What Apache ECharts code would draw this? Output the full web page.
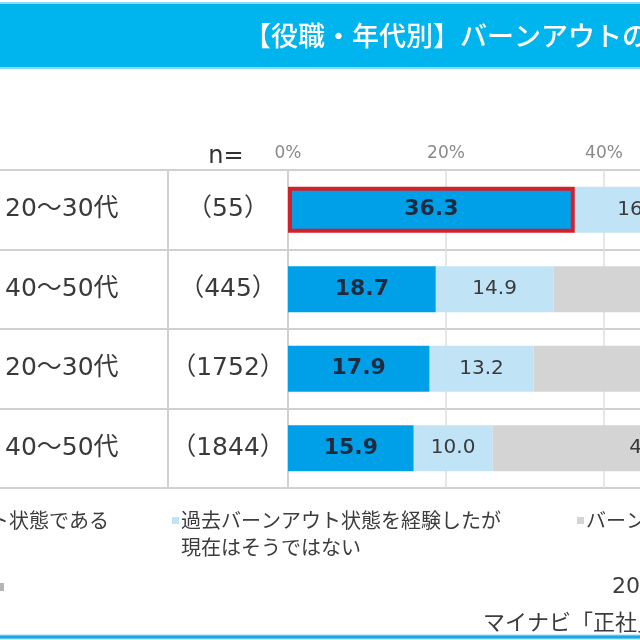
<!DOCTYPE html>
<html>
<head>
<meta charset="utf-8">
<script src="https://cdn.jsdelivr.net/npm/echarts@6/dist/echarts.min.js"></script>
<style>
  html, body { margin: 0; padding: 0; background: #fff; }
  #panel { width: 640px; height: 640px; }
</style>
</head>
<body>
<div id="panel"></div>
<script>
const CATEGORIES = ['20～30代', '40～50代', '20～30代', '40～50代'];
const SAMPLE_N = [55, 445, 1752, 1844];
const NOW_BURNOUT = [36.3, 18.7, 17.9, 15.9];
const PAST_BURNOUT = [16.4, 14.9, 13.2, 10.0];
const NEVER_BURNOUT = [41.6, 42.9, 43.5, 40.2];
const SERIES_NAMES = [
  '現在バーンアウト状態である',
  '過去バーンアウト状態を経験したが\n現在はそうではない',
  'バーンアウト状態になったことはない',
];
const X_TICKS = [0, 20, 40, 60, 80, 100];
const COLORS = ['#00a0e9', '#c0e3f6', '#d4d4d4'];
const TITLE = '【役職・年代別】バーンアウトの状況';
const DATE_NOTE = '2023年調査';
const SOURCE = 'マイナビ「正社員のワークライフ・インテグレーション調査」';

const JP = "'Noto Sans CJK JP', sans-serif";
const NUM = "'DejaVu Sans', 'Noto Sans CJK JP', sans-serif";
const LINE = '#d0d0d0';

const myChart = echarts.init(document.getElementById('panel'), null, { renderer: 'canvas' });

// 1本目だけ赤枠
const nowData = NOW_BURNOUT.map((v, i) =>
  i === 0 ? { value: v, itemStyle: { borderColor: '#d3212b', borderWidth: 4 } } : v
);

const labelNum = (size, weight, color) => ({
  show: true,
  position: 'inside',
  fontFamily: NUM,
  fontSize: size,
  fontWeight: weight,
  color: color,
  formatter: (p) => p.value.toFixed(1),
});

// legend (graphic)
const legendItems = [
  { x: -200, textX: 109, align: 'right' },
  { x: 172, textX: 181, align: 'left' },
  { x: 577, textX: 586, align: 'left' },
];
const legendGraphic = [];
legendItems.forEach((it, i) => {
  legendGraphic.push({
    type: 'rect',
    shape: { x: it.x, y: 517, width: 7, height: 7 },
    style: { fill: COLORS[i] },
  });
  legendGraphic.push({
    type: 'text',
    x: it.textX,
    y: 507,
    style: {
      text: SERIES_NAMES[i],
      fontFamily: JP,
      fontSize: 20,
      lineHeight: 27,
      fill: '#3c3c3c',
      align: it.align,
      verticalAlign: 'top',
    },
  });
});

const option = {
  backgroundColor: '#fff',
  animation: false,
  grid: [
    // 表の罫線用
    { left: 0, top: 170, width: 640, height: 318, containLabel: false, outerBoundsMode: 'none' },
    // グラフ本体
    { left: 288, top: 170, width: 790, height: 318, containLabel: false, outerBoundsMode: 'none' },
  ],
  xAxis: [
    { gridIndex: 0, type: 'value', show: false },
    {
      gridIndex: 1,
      type: 'value',
      position: 'top',
      min: X_TICKS[0],
      max: X_TICKS[X_TICKS.length - 1],
      interval: X_TICKS[1] - X_TICKS[0],
      axisLine: { show: false },
      axisTick: { show: false },
      axisLabel: {
        margin: 8,
        color: '#8a8a8a',
        fontFamily: NUM,
        fontSize: 17,
        formatter: '{value}%',
      },
      splitLine: { show: true, lineStyle: { color: '#dedede', width: 1.5 } },
    },
  ],
  yAxis: [
    {
      gridIndex: 0,
      type: 'category',
      inverse: true,
      data: CATEGORIES,
      axisLine: { show: false },
      axisTick: { show: false },
      axisLabel: { show: false },
      splitLine: { show: true, lineStyle: { color: LINE, width: 2 } },
    },
    {
      gridIndex: 1,
      type: 'category',
      inverse: true,
      data: CATEGORIES,
      axisLine: { show: true, lineStyle: { color: LINE, width: 2 } },
      axisTick: { show: false },
      splitLine: { show: false },
      axisLabel: {
        margin: 0,
        formatter: (value, idx) => `{a|${value}}{b|（${SAMPLE_N[idx]}）}`,
        rich: {
          a: { width: 163, align: 'left', fontFamily: NUM, fontSize: 25, color: '#3a3a3a' },
          b: { width: 120, align: 'center', fontFamily: NUM, fontSize: 25, color: '#3a3a3a' },
        },
      },
    },
  ],
  series: [
    {
      name: SERIES_NAMES[0],
      type: 'bar',
      stack: 'total',
      xAxisIndex: 1,
      yAxisIndex: 1,
      barWidth: 46,
      z: 3,
      data: nowData,
      itemStyle: { color: COLORS[0] },
      label: labelNum(22, 'bold', '#1b2b40'),
    },
    {
      name: SERIES_NAMES[1],
      type: 'bar',
      stack: 'total',
      xAxisIndex: 1,
      yAxisIndex: 1,
      barWidth: 46,
      z: 2,
      data: PAST_BURNOUT,
      itemStyle: { color: COLORS[1] },
      label: labelNum(20, 'normal', '#3a3a3a'),
    },
    {
      name: SERIES_NAMES[2],
      type: 'bar',
      stack: 'total',
      xAxisIndex: 1,
      yAxisIndex: 1,
      barWidth: 46,
      z: 2,
      data: NEVER_BURNOUT,
      itemStyle: { color: COLORS[2] },
      label: labelNum(20, 'normal', '#3a3a3a'),
    },
  ],
  graphic: [
    // ヘッダー帯
    {
      type: 'rect',
      shape: { x: -2, y: 3, width: 644, height: 65 },
      style: { fill: '#00b5ee', stroke: '#8ddcf7', lineWidth: 2 },
    },
    {
      type: 'text',
      x: 244,
      y: 36,
      style: {
        text: TITLE,
        fontFamily: JP,
        fontSize: 27,
        fontWeight: 500,
        fill: '#ffffff',
        verticalAlign: 'middle',
      },
    },
    // 列の区切り
    {
      type: 'line',
      shape: { x1: 168, y1: 170, x2: 168, y2: 488 },
      style: { stroke: LINE, lineWidth: 2 },
    },
    {
      type: 'text',
      x: 226,
      y: 157,
      style: {
        text: 'n=',
        fontFamily: NUM,
        fontSize: 24,
        fill: '#333',
        align: 'center',
        verticalAlign: 'middle',
      },
    },
    ...legendGraphic,
    {
      type: 'rect',
      shape: { x: -3, y: 583, width: 7, height: 8 },
      style: { fill: '#b5b5b5' },
    },
    {
      type: 'text',
      x: 612,
      y: 587,
      style: { text: DATE_NOTE, fontFamily: NUM, fontSize: 22, fill: '#3c3c3c', verticalAlign: 'middle' },
    },
    {
      type: 'text',
      x: 483,
      y: 622,
      style: { text: SOURCE, fontFamily: JP, fontSize: 22, fill: '#3c3c3c', verticalAlign: 'middle' },
    },
    // 下の帯
    {
      type: 'rect',
      shape: { x: -2, y: 635, width: 644, height: 4 },
      style: { fill: '#1aa7e2', stroke: '#9fdcf5', lineWidth: 1 },
    },
  ],
};

myChart.setOption(option);
</script>
</body>
</html>
